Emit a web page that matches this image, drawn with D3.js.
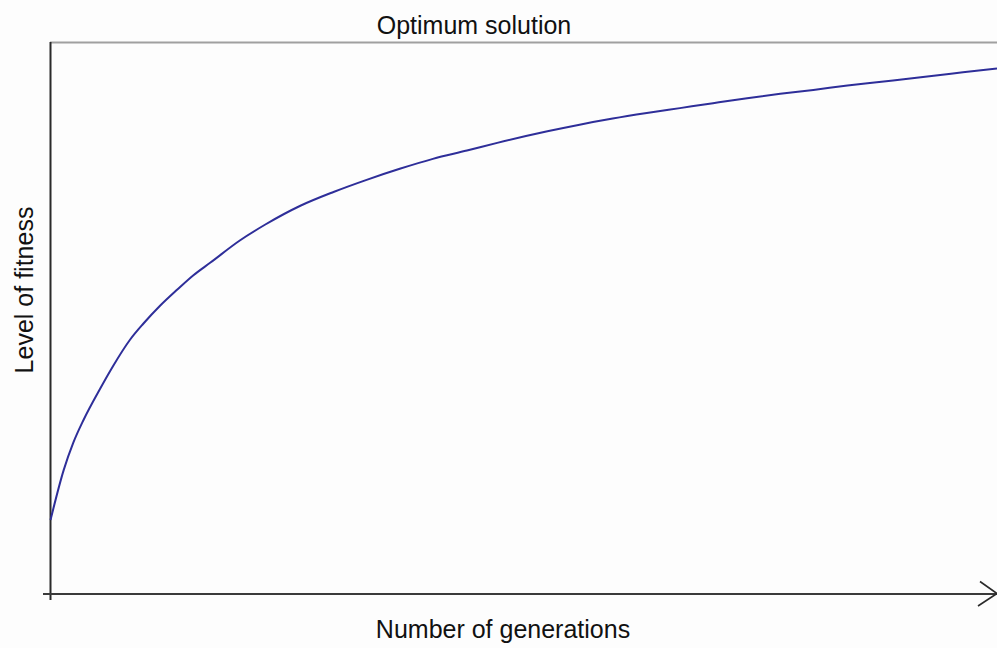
<!DOCTYPE html>
<html>
<head>
<meta charset="utf-8">
<script src="https://cdn.jsdelivr.net/npm/d3@7/dist/d3.min.js"></script>
<style>
  html, body { margin: 0; padding: 0; background: #fdfdfd; }
  svg { display: block; }
  text { font-family: "Liberation Sans", Arial, sans-serif; fill: #111; }
</style>
</head>
<body>
<script>
// Data (generations 0..100, fitness 0..100)
const generations = [0, 1.4, 2.4, 3.5, 5.3, 6.6, 8.4, 9.8, 11.6, 13.4, 15.1, 16.9, 20.0, 22.7, 26.4, 29.9, 33.4, 36.9, 40.4, 44.0, 47.2, 52.5, 55.9, 59.4, 63.0, 66.5, 70.0, 73.6, 77.1, 80.6, 84.2, 87.3, 91.5, 94.0, 96.4, 100];
const fitness = [13.4, 22.5, 27.4, 31.6, 37.4, 41.3, 46.1, 49.0, 52.3, 55.2, 57.8, 60.1, 64.1, 67.0, 70.4, 72.9, 75.1, 77.1, 78.9, 80.4, 81.8, 83.9, 85.1, 86.2, 87.2, 88.1, 89.0, 89.9, 90.7, 91.4, 92.2, 92.8, 93.6, 94.1, 94.6, 95.3];
const titleText = "Optimum solution";
const xLabel = "Number of generations";
const yLabel = "Level of fitness";

const W = 997, H = 648;

const svg = d3.select("body").append("svg").attr("width", W).attr("height", H);
svg.append("rect").attr("width", W).attr("height", H).attr("fill", "#fdfdfd");

const x = d3.scaleLinear().domain([0, 100]).range([50.5, 997]);
const y = d3.scaleLinear().domain([0, 100]).range([594, 42.5]);

// top frame line (gray)
svg.append("line")
  .attr("x1", 50).attr("x2", W).attr("y1", 42.5).attr("y2", 42.5)
  .attr("stroke", "#a0a0a0").attr("stroke-width", 2);

// left axis
svg.append("line")
  .attr("x1", 50.5).attr("x2", 50.5).attr("y1", 42).attr("y2", 600)
  .attr("stroke", "#2a2a2a").attr("stroke-width", 2);

// bottom axis
svg.append("line")
  .attr("x1", 43).attr("x2", 997).attr("y1", 594).attr("y2", 594)
  .attr("stroke", "#3a3a3a").attr("stroke-width", 2);

// arrow head
svg.append("path")
  .attr("d", "M980,581.5 L997,593.5 L978,606")
  .attr("fill", "none").attr("stroke", "#2a2a2a").attr("stroke-width", 1.6);

// curve
const pts = generations.map((g, i) => [g, fitness[i]]);
const line = d3.line().x(d => x(d[0])).y(d => y(d[1])).curve(d3.curveMonotoneX);
svg.append("path")
  .datum(pts)
  .attr("d", line)
  .attr("fill", "none")
  .attr("stroke", "#2e2e99")
  .attr("stroke-width", 2);

// texts
svg.append("text")
  .attr("x", 474).attr("y", 34)
  .attr("text-anchor", "middle")
  .attr("font-size", 25)
  .text(titleText);

svg.append("text")
  .attr("x", 503).attr("y", 638)
  .attr("text-anchor", "middle")
  .attr("font-size", 25)
  .text(xLabel);

svg.append("text")
  .attr("transform", "translate(33,290) rotate(-90)")
  .attr("text-anchor", "middle")
  .attr("font-size", 25)
  .text(yLabel);
</script>
</body>
</html>
